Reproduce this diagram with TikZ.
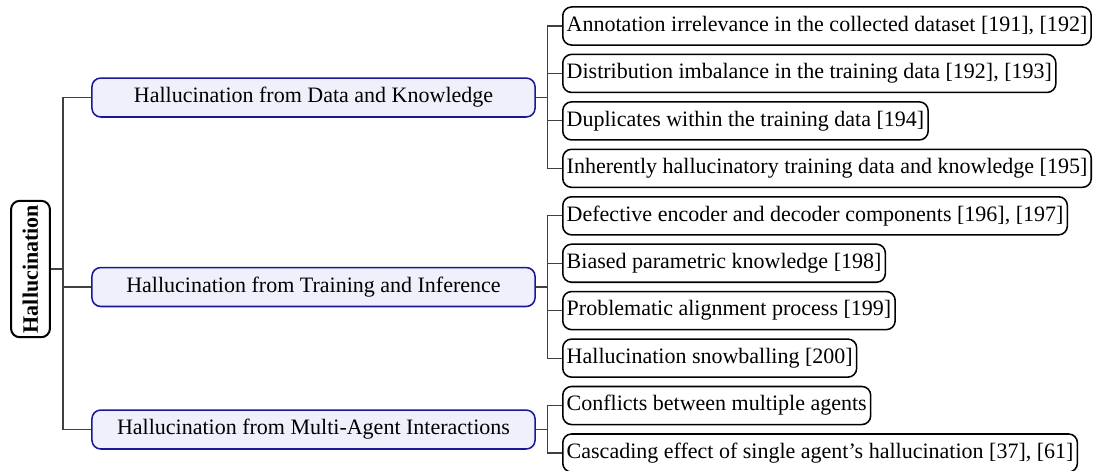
\documentclass[tikz,border=0pt]{standalone}
\usepackage{fontspec}
\setmainfont{Liberation Serif}
\usepackage{xcolor}
\usepackage{tikz}
\usetikzlibrary{calc}
\definecolor{branchBlue}{RGB}{24,24,150}
\definecolor{branchFill}{RGB}{240,240,252}
\tikzset {
    rootbox/.style={draw, line width=0.9pt, rounded corners=4pt, rotate=90,
        font=\bfseries, minimum width=62pt, minimum height=17.7pt,
        inner sep=1.5pt},
    branch/.style={draw=branchBlue, fill=branchFill, line width=0.7pt,
        rounded corners=4pt, minimum width=201.4pt, minimum height=17.7pt,
        align=center},
    leaf/.style={draw, line width=0.7pt, rounded corners=4pt, anchor=west,
        minimum height=17.3pt, inner xsep=1.8pt},
    fork/.style={draw=black!75, line width=0.5pt}
}

\begin{document}
\begin{tikzpicture}[x=0.4545pt, y=-0.4545pt]

        \useasboundingbox (0,0) rectangle (1096,470);

        \node[rootbox] (root) at (30.5,269) {Hallucination};

        \node[branch] (dataKnowledge) at (313.5,97.5) {Hallucination from Data and Knowledge};
        \node[branch] (trainInference) at (313.5,287) {Hallucination from Training and Inference};
        \node[branch] (multiAgent) at (313.5,429.5) {Hallucination from Multi-Agent Interactions};

        \node[leaf] (annotation) at (562,26) {Annotation irrelevance in the collected dataset [191], [192]};
        \node[leaf] (distribution) at (562,73.4) {Distribution imbalance in the training data [192], [193]};
        \node[leaf] (duplicates) at (562,120.9) {Duplicates within the training data [194]};
        \node[leaf] (inherent) at (562,168.3) {Inherently hallucinatory training data and knowledge [195]};

        \node[leaf] (defective) at (562,215.8) {Defective encoder and decoder components [196], [197]};
        \node[leaf] (biased) at (562,263.2) {Biased parametric knowledge [198]};
        \node[leaf] (alignment) at (562,310.6) {Problematic alignment process [199]};
        \node[leaf] (snowball) at (562,358.1) {Hallucination snowballing [200]};

        \node[leaf] (conflicts) at (562,405.5) {Conflicts between multiple agents};
        \node[leaf] (cascading) at (562,453) {Cascading effect of single agent's hallucination [37], [61]};

        % root to branches
        \draw[fork] (root.south) -- ++(12,0) |- (dataKnowledge.west);
        \draw[fork] (root.south) -- ++(12,0) |- (trainInference.west);
        \draw[fork] (root.south) -- ++(12,0) |- (multiAgent.west);

        % branches to leaves
        \draw[fork] (dataKnowledge.east) -- ++(12,0) |- (annotation.west);
        \draw[fork] (dataKnowledge.east) -- ++(12,0) |- (distribution.west);
        \draw[fork] (dataKnowledge.east) -- ++(12,0) |- (duplicates.west);
        \draw[fork] (dataKnowledge.east) -- ++(12,0) |- (inherent.west);

        \draw[fork] (trainInference.east) -- ++(12,0) |- (defective.west);
        \draw[fork] (trainInference.east) -- ++(12,0) |- (biased.west);
        \draw[fork] (trainInference.east) -- ++(12,0) |- (alignment.west);
        \draw[fork] (trainInference.east) -- ++(12,0) |- (snowball.west);

        \draw[fork] (multiAgent.east) -- ++(12,0) |- (conflicts.west);
        \draw[fork] (multiAgent.east) -- ++(12,0) |- (cascading.west);

    \end{tikzpicture}
\end{document}
